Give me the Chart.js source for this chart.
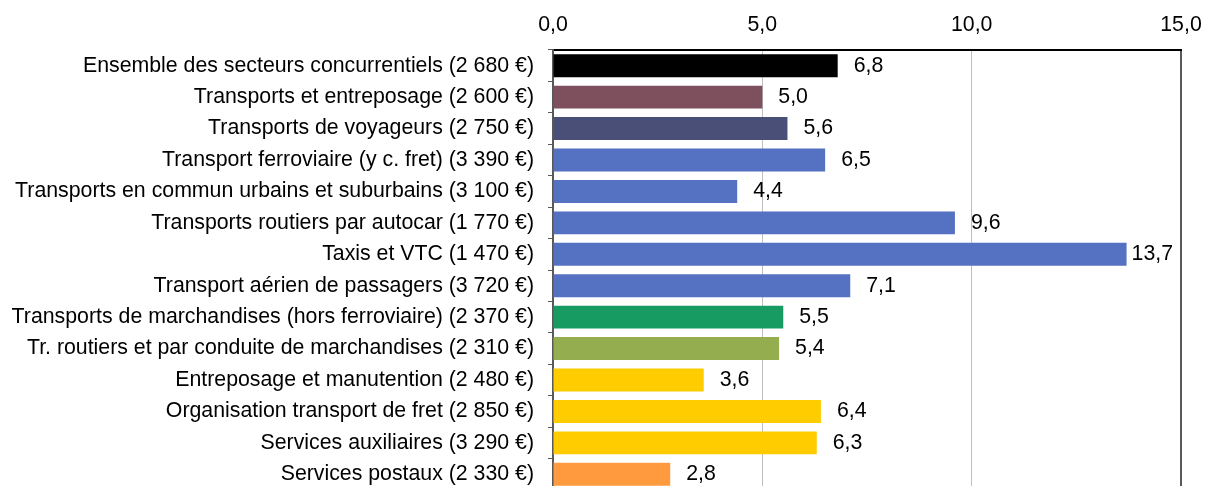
<!DOCTYPE html>
<html lang="fr">
<head>
<meta charset="utf-8">
<script src="https://cdn.jsdelivr.net/npm/chart.js@4/dist/chart.umd.min.js"></script>
<style>
  html, body { margin: 0; padding: 0; background: #ffffff; overflow: hidden; }
  #wrap { position: relative; width: 1206px; height: 490px; }
</style>
</head>
<body>
<div id="wrap"><canvas id="chart"></canvas></div>
<script>
// Secteurs (salaire moyen entre parenthèses)
const categories = [
  'Ensemble des secteurs concurrentiels (2 680 €)',
  'Transports et entreposage (2 600 €)',
  'Transports de voyageurs (2 750 €)',
  'Transport ferroviaire (y c. fret) (3 390 €)',
  'Transports en commun urbains et suburbains (3 100 €)',
  'Transports routiers par autocar (1 770 €)',
  'Taxis et VTC (1 470 €)',
  'Transport aérien de passagers (3 720 €)',
  'Transports de marchandises (hors ferroviaire) (2 370 €)',
  'Tr. routiers et par conduite de marchandises (2 310 €)',
  'Entreposage et manutention (2 480 €)',
  'Organisation transport de fret (2 850 €)',
  'Services auxiliaires (3 290 €)',
  'Services postaux (2 330 €)'
];

const values = [6.8, 5.0, 5.6, 6.5, 4.4, 9.6, 13.7, 7.1, 5.5, 5.4, 3.6, 6.4, 6.3, 2.8];

const barColors = [
  '#000000', '#7e4f5d', '#4a4f78',
  '#5571c2', '#5571c2', '#5571c2', '#5571c2', '#5571c2',
  '#189b63', '#93ad4f',
  '#ffcc00', '#ffcc00', '#ffcc00',
  '#ff9a3f'
];

const xTicks = [0, 5, 10, 15];

const FONT = "'Liberation Sans', Arial, sans-serif";
const FONT_SIZE = 21.3;
const fmt = v => v.toFixed(1).replace('.', ',');

// Valeurs écrites au bout de chaque barre
const valueLabels = {
  id: 'valueLabels',
  afterDatasetsDraw(chart) {
    const { ctx, chartArea } = chart;
    const meta = chart.getDatasetMeta(0);
    ctx.save();
    ctx.font = FONT_SIZE + 'px ' + FONT;
    ctx.fillStyle = '#000000';
    ctx.textAlign = 'left';
    ctx.textBaseline = 'middle';
    meta.data.forEach((bar, i) => {
      const txt = fmt(values[i]);
      const w = ctx.measureText(txt).width;
      let x = bar.x + 16;
      if (x + w > chartArea.right - 8) x = chartArea.right - 8 - w;
      ctx.fillText(txt, x, bar.y);
    });
    ctx.restore();
  }
};

new Chart(document.getElementById('chart'), {
  type: 'bar',
  data: {
    labels: categories,
    datasets: [{
      data: values,
      backgroundColor: barColors,
      borderWidth: 0,
      categoryPercentage: 1.0,
      barPercentage: 0.73
    }]
  },
  options: {
    indexAxis: 'y',
    responsive: true,
    maintainAspectRatio: false,
    animation: false,
    layout: { padding: { left: 0, right: 25, top: 0, bottom: 0 } },
    plugins: {
      legend: { display: false },
      tooltip: { enabled: false }
    },
    scales: {
      x: {
        position: 'top',
        min: 0,
        max: 15,
        afterBuildTicks: s => { s.ticks = xTicks.map(v => ({ value: v })); },
        afterFit: s => { s.height = 50; s.paddingLeft = 0; s.paddingRight = 0; },
        ticks: {
          font: { family: FONT, size: FONT_SIZE },
          color: '#000000',
          padding: 12,
          maxRotation: 0,
          callback: v => fmt(v)
        },
        grid: {
          drawTicks: false,
          color: ctx => (ctx.tick && ctx.tick.value === 15) ? '#595959' : '#bfbfbf',
          lineWidth: ctx => (ctx.tick && ctx.tick.value === 15) ? 2 : 1
        },
        border: { display: true, color: '#000000', width: 2 }
      },
      y: {
        afterFit: s => { s.width = 553; s.paddingTop = 0; s.paddingBottom = 0; },
        ticks: {
          font: { family: FONT, size: FONT_SIZE },
          color: '#000000',
          padding: 14,
          autoSkip: false
        },
        grid: {
          drawOnChartArea: false,
          drawTicks: true,
          tickLength: 5,
          color: '#595959',
          lineWidth: 1
        },
        border: { display: true, color: '#595959', width: 2 }
      }
    }
  },
  plugins: [valueLabels]
});
</script>
</body>
</html>
